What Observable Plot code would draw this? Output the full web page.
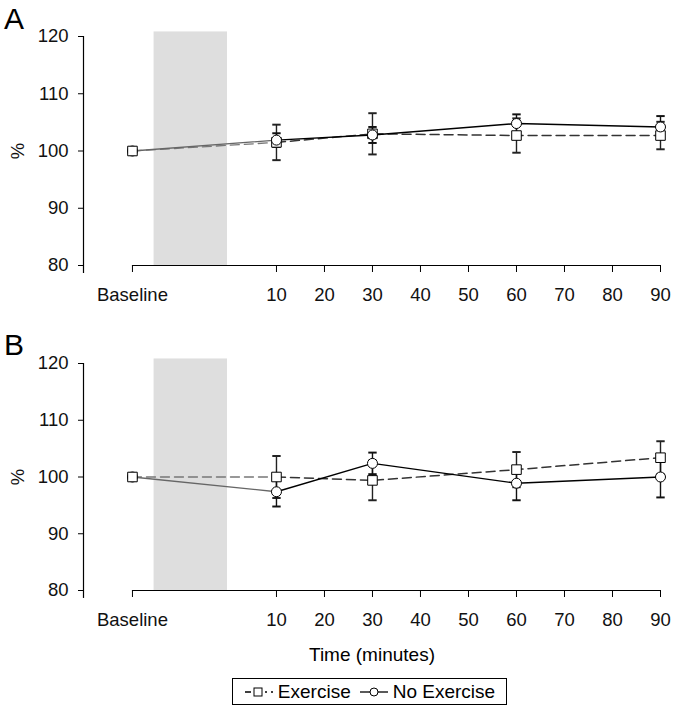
<!DOCTYPE html>
<html>
<head>
<meta charset="utf-8">
<script src="https://cdn.jsdelivr.net/npm/d3@7"></script>
<script src="https://cdn.jsdelivr.net/npm/@observablehq/plot@0.6"></script>
<style>
  html, body { margin: 0; padding: 0; background: #fff; }
  body { font-family: "Liberation Sans", Arial, sans-serif; color: #000; }
  #fig { position: relative; width: 675px; height: 712px; }
  .panel { position: absolute; left: 0; }
  .letter { position: absolute; left: 4px; font-size: 30px; line-height: 1; }
  #xlabel { position: absolute; top: 644px; left: 0; width: 744px; text-align: center; font-size: 19px; }
  #legend { position: absolute; left: 232px; top: 678px; width: 275px; height: 27px; border: 1px solid #000;
            display: flex; align-items: center; justify-content: center; font-size: 19px; white-space: nowrap; box-sizing: border-box; }
  #legend svg { display: inline-block; vertical-align: middle; }
</style>
</head>
<body>
<div id="fig">
  <div class="panel" id="panelA" style="top:0px"></div>
  <div class="panel" id="panelB" style="top:320px"></div>
  <div class="letter" style="top:4px">A</div>
  <div class="letter" style="top:330px">B</div>
  <div id="xlabel">Time (minutes)</div>
  <div id="legend"></div>
</div>
<script>
// ---- data ----
const times = [-20, 10, 30, 60, 90];            // -20 = Baseline position on the time axis
const xTicks = [-20, 10, 20, 30, 40, 50, 60, 70, 80, 90];
const xTickLabels = ["Baseline", "10", "20", "30", "40", "50", "60", "70", "80", "90"];
const yTicks = [80, 90, 100, 110, 120];
const exercisePeriod = [-15.5, -0.2];

const aExerciseMean = [100, 101.5, 103.0, 102.7, 102.7];
const aExerciseErr  = [0, 3.1, 3.6, 3.0, 2.4];
const aNoExMean     = [100, 101.9, 102.8, 104.8, 104.2];
const aNoExErr      = [0, 1.2, 1.4, 1.6, 1.9];

const bExerciseMean = [100, 100.0, 99.4, 101.3, 103.4];
const bExerciseErr  = [0, 3.7, 3.5, 3.1, 2.9];
const bNoExMean     = [100, 97.4, 102.4, 98.9, 100.0];
const bNoExErr      = [0, 2.6, 1.9, 3.0, 3.6];

const xMin = -30.2;
const font = "Liberation Sans, Arial, sans-serif";

function rows(mean, err) {
  return times.map((t, i) => ({t, v: mean[i], lo: mean[i] - err[i], hi: mean[i] + err[i], i}));
}

function panel(exMean, exErr, noMean, noErr, marginTop, marginBottom) {
  const ex = rows(exMean, exErr);
  const no = rows(noMean, noErr);
  const exBars = ex.filter(d => d.i > 0);
  const noBars = no.filter(d => d.i > 0);
  return Plot.plot({
    width: 675,
    height: 320,
    marginLeft: 83,
    marginRight: 15,
    marginTop,
    marginBottom,
    style: {fontFamily: font, fontSize: "18.5px", color: "#000", background: "transparent"},
    x: {domain: [xMin, 90]},
    y: {domain: [80, 120]},
    marks: [
      Plot.rect([exercisePeriod], {x1: d => d[0], x2: d => d[1], y1: 80, y2: 120.8, fill: "#dedede"}),
      Plot.ruleY([80], {x1: -20, x2: 90, stroke: "#000", strokeWidth: 1.2}),
      Plot.ruleX([xMin], {y1: 78.6, y2: 120, stroke: "#000", strokeWidth: 1.2}),
      Plot.axisX({ticks: xTicks, tickFormat: (d) => xTickLabels[xTicks.indexOf(d)], tickSize: 7, tickPadding: 15, label: null, fill: "#111"}),
      Plot.axisY({ticks: yTicks, tickSize: 5, tickPadding: 10, label: "%", labelAnchor: "center", labelArrow: "none", labelOffset: 73, fill: "#111"}),
      // baseline -> first point segments (grey)
      Plot.line(ex.slice(0, 2), {x: "t", y: "v", stroke: "#777", strokeWidth: 1.3, strokeDasharray: "9,5"}),
      Plot.line(no.slice(0, 2), {x: "t", y: "v", stroke: "#666", strokeWidth: 1.3}),
      // remaining segments
      Plot.line(ex.slice(1), {x: "t", y: "v", stroke: "#333", strokeWidth: 1.5, strokeDasharray: "9,5"}),
      Plot.line(no.slice(1), {x: "t", y: "v", stroke: "#000", strokeWidth: 1.4}),
      // error bars
      Plot.link(exBars, {x1: "t", x2: "t", y1: "lo", y2: "hi", stroke: "#222", strokeWidth: 1.4, markerStart: "tick", markerEnd: "tick"}),
      Plot.link(noBars, {x1: "t", x2: "t", y1: "lo", y2: "hi", stroke: "#111", strokeWidth: 1.4, markerStart: "tick", markerEnd: "tick"}),
      // markers
      Plot.dot(no.filter(d => d.i === 0), {x: "t", y: "v", symbol: "circle", r: 5, fill: "#fff", stroke: "#000", strokeWidth: 1}),
      Plot.dot(ex, {x: "t", y: "v", symbol: "square", r: 5.4, fill: "#fff", stroke: "#000", strokeWidth: 1}),
      Plot.dot(no.filter(d => d.i > 0), {x: "t", y: "v", symbol: "circle", r: 5, fill: "#fff", stroke: "#000", strokeWidth: 1})
    ]
  });
}

document.getElementById("panelA").appendChild(panel(aExerciseMean, aExerciseErr, aNoExMean, aNoExErr, 36, 55));
document.getElementById("panelB").appendChild(panel(bExerciseMean, bExerciseErr, bNoExMean, bNoExErr, 43, 50));

// legend
const legend = document.getElementById("legend");
legend.innerHTML =
  '<svg width="30" height="14"><line x1="1" y1="7" x2="29" y2="7" stroke="#000" stroke-width="1.3" stroke-dasharray="6,4,6,4,2,4"/>' +
  '<rect x="10" y="3" width="8" height="8" fill="#fff" stroke="#000" stroke-width="1"/></svg>' +
  '<span style="margin:0 8px 0 4px">Exercise</span>' +
  '<svg width="30" height="14"><line x1="1" y1="7" x2="29" y2="7" stroke="#000" stroke-width="1.3"/>' +
  '<circle cx="15" cy="7" r="4" fill="#fff" stroke="#000" stroke-width="1"/></svg>' +
  '<span style="margin-left:4px">No Exercise</span>';
</script>
</body>
</html>
